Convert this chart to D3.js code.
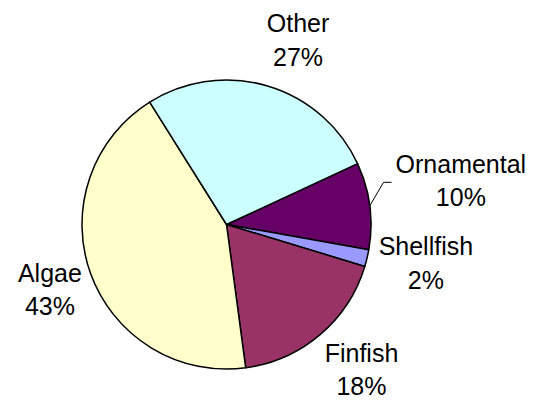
<!DOCTYPE html>
<html lang="en">
<meta charset="utf-8">
<head>
    <script src="https://d3js.org/d3.v7.min.js"></script>
</head>
<body style="margin:0;background:#fff">
<style>
    .lbl { font-family: "Liberation Sans", Arial, sans-serif; font-size: 25px; fill: #000; }
</style>
<svg width="540" height="402"></svg>
<script>
// data
var categories = ["Ornamental", "Shellfish", "Finfish", "Algae", "Other"];
var values = [9.7, 1.9, 18.2, 43.2, 27.0];
var colors = ["#660066", "#9999FF", "#993366", "#FFFFCC", "#CCFFFF"];

var svg = d3.select("svg");
var cx = 226.5, cy = 224.5, radius = 144.5;
var deg = Math.PI / 180;
var start = 65.1 * deg;

// label placement: distance from center and small angle nudge (degrees)
var labelDist = { Other: 189.5, Ornamental: 237, Shellfish: 205, Finfish: 205, Algae: 191.5 };
var labelNudge = { Other: 5.7, Ornamental: -1.1, Shellfish: 0, Finfish: -0.8, Algae: -2.9 };

var data = categories.map(function(c, i) { return { name: c, value: values[i], color: colors[i] }; });
var total = d3.sum(values);

var pie = d3.pie().sort(null).value(function(d) { return d.value; })
    .startAngle(start).endAngle(start + 2 * Math.PI);
var arc = d3.arc().innerRadius(0).outerRadius(radius);

var g = svg.append("g").attr("transform", "translate(" + cx + "," + cy + ")");
var arcs = pie(data);

g.selectAll("path")
    .data(arcs)
    .enter().append("path")
    .attr("d", arc)
    .attr("fill", function(d) { return d.data.color; })
    .attr("stroke", "#000")
    .attr("stroke-width", 1.5)
    .attr("stroke-linejoin", "round");

function polar(a, r) { return [Math.sin(a) * r, -Math.cos(a) * r]; }

arcs.forEach(function(d) {
    var mid = (d.startAngle + d.endAngle) / 2;
    var p = polar(mid + labelNudge[d.data.name] * deg, labelDist[d.data.name]);
    var t = g.append("text").attr("class", "lbl").attr("text-anchor", "middle");
    t.append("tspan").attr("x", p[0]).attr("y", p[1] - 16.7).text(d.data.name);
    t.append("tspan").attr("x", p[0]).attr("y", p[1] + 16.7)
        .text(Math.round(d.data.value / total * 100) + "%");

    // leader line only for the label that was dragged away
    if (d.data.name === "Ornamental") {
        var w = t.select("tspan").node().getComputedTextLength();
        var e = polar(mid, radius);
        var x2 = p[0] - w / 2 - 4, y2 = p[1] - 7;
        g.append("polyline")
            .attr("points", [e, [x2 - 8, y2], [x2, y2]].map(function(q) { return q.join(","); }).join(" "))
            .attr("fill", "none")
            .attr("stroke", "#000")
            .attr("stroke-width", 1);
    }
});
</script>
</body>
</html>
